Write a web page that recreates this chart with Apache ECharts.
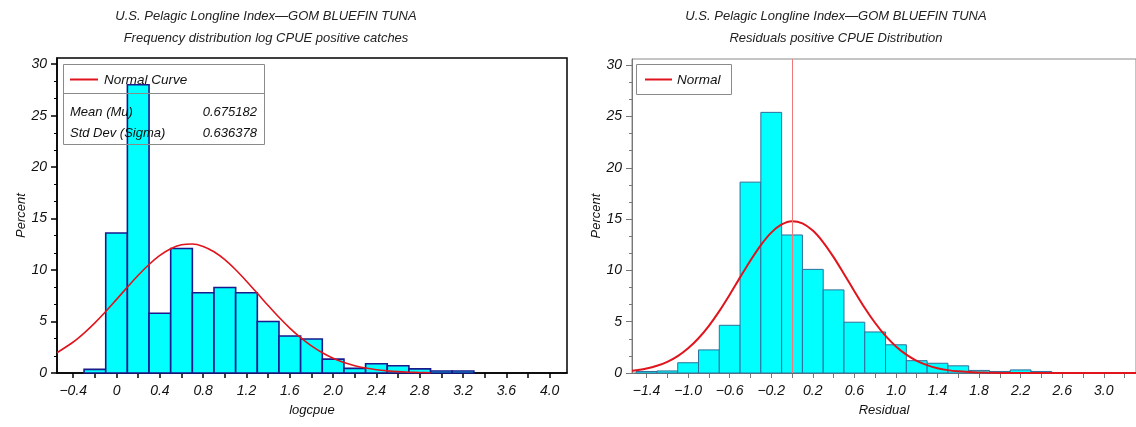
<!DOCTYPE html>
<html><head><meta charset="utf-8">
<script src="https://cdn.jsdelivr.net/npm/echarts@6/dist/echarts.min.js"></script>
<style>html,body{margin:0;padding:0;background:#fff}#c{width:1136px;height:427px}</style>
</head><body><div id="c"></div>
<script>
// ---------- data ----------
const binWidth = 0.2;
const leftBinCenters = [-0.2,0,0.2,0.4,0.6,0.8,1.0,1.2,1.4,1.6,1.8,2.0,2.2,2.4,2.6,2.8,3.0,3.2];
const leftPercents   = [0.35,13.6,28.0,5.8,12.1,7.8,8.3,7.8,5.0,3.6,3.3,1.35,0.45,0.9,0.7,0.4,0.2,0.2];
const leftCurveX = [-0.55,-0.4,-0.3,-0.2,-0.1,0,0.1,0.2,0.3,0.4,0.5,0.6,0.7,0.8,0.9,1.0,1.1,1.2,1.3,1.4,1.5,1.6,1.7,1.8,1.9,2.0,2.1,2.2,2.3,2.4,2.5,2.6,2.7,2.8,2.9];
const leftCurveY = [1.97,3.01,3.88,4.87,5.97,7.15,8.34,9.49,10.54,11.42,12.07,12.45,12.53,12.30,11.78,11.01,10.03,8.92,7.74,6.55,5.41,4.36,3.43,2.63,1.97,1.44,1.02,0.71,0.48,0.32,0.21,0.13,0.08,0.05,0.03];
const leftTickValues = [-0.4,0,0.4,0.8,1.2,1.6,2.0,2.4,2.8,3.2,3.6,4.0];
const leftTickLabels = ['\u22120.4','0','0.4','0.8','1.2','1.6','2.0','2.4','2.8','3.2','3.6','4.0'];
const leftMinorTicks = [-0.4,-0.2,0,0.2,0.4,0.6,0.8,1.0,1.2,1.4,1.6,1.8,2.0,2.2,2.4,2.6,2.8,3.0,3.2,3.4,3.6,3.8,4.0];
const leftStatsNames  = ['Mean (Mu)','Std Dev (Sigma)'];
const leftStatsValues = ['0.675182','0.636378'];

const rightBinCenters = [-1.4,-1.2,-1.0,-0.8,-0.6,-0.4,-0.2,0,0.2,0.4,0.6,0.8,1.0,1.2,1.4,1.6,1.8,2.0,2.2,2.4];
const rightPercents   = [0.15,0.2,1.0,2.25,4.65,18.6,25.4,13.45,10.1,8.1,4.95,4.0,2.75,1.2,0.95,0.7,0.25,0.15,0.3,0.15];
const rightCurveX = [-1.54,-1.5,-1.4,-1.3,-1.2,-1.1,-1.0,-0.9,-0.8,-0.7,-0.6,-0.5,-0.4,-0.3,-0.2,-0.1,0,0.1,0.2,0.3,0.4,0.5,0.6,0.7,0.8,0.9,1.0,1.1,1.2,1.3,1.4,1.5,1.6,1.7,1.8,1.9,2.0,2.4,2.8,3.31];
const rightCurveY = [0.21,0.26,0.43,0.70,1.09,1.65,2.41,3.39,4.60,6.03,7.63,9.32,10.97,12.47,13.68,14.48,14.80,14.59,13.88,12.74,11.29,9.65,7.97,6.34,4.87,3.61,2.59,1.79,1.19,0.77,0.47,0.28,0.16,0.09,0.05,0.03,0.01,0,0,0];
const rightRefLine = [0];
const rightTickValues = [-1.4,-1.0,-0.6,-0.2,0.2,0.6,1.0,1.4,1.8,2.2,2.6,3.0];
const rightTickLabels = ['\u22121.4','\u22121.0','\u22120.6','\u22120.2','0.2','0.6','1.0','1.4','1.8','2.2','2.6','3.0'];
const rightMinorTicks = [-1.4,-1.2,-1.0,-0.8,-0.6,-0.4,-0.2,0,0.2,0.4,0.6,0.8,1.0,1.2,1.4,1.6,1.8,2.0,2.2,2.4,2.6,2.8,3.0,3.2];

const yTickValues = [0,5,10,15,20,25,30];
const yTickLabels = ['0','5','10','15','20','25','30'];
const yMinorTicks = [1.667,3.333,6.667,8.333,11.667,13.333,16.667,18.333,21.667,23.333,26.667,28.333];

const titleLine1 = 'U.S. Pelagic Longline Index\u2014GOM BLUEFIN TUNA';
const leftTitle2 = 'Frequency distribution log CPUE positive catches';
const rightTitle2 = 'Residuals positive CPUE Distribution';

// ---------- chart ----------
const FONT = '"Liberation Sans", Arial, sans-serif';
const chart = echarts.init(document.getElementById('c'), null, {renderer:'canvas'});

function fmt(values, labels){
  return v => { const i = values.findIndex(t => Math.abs(t - v) < 1e-6); return i >= 0 ? labels[i] : ''; };
}
function zip(a, b){ return a.map((x, i) => [x, b[i]]); }
function histRender(stroke, lw){
  return function(params, api){
    const c = api.value(0), v = api.value(1);
    const p0 = api.coord([c - binWidth/2, v]);
    const p1 = api.coord([c + binWidth/2, 0]);
    return {type:'rect', shape:{x:p0[0], y:p0[1], width:p1[0]-p0[0], height:p1[1]-p0[1]},
            style:{fill:'#00ffff', stroke:stroke, lineWidth:lw}};
  };
}
const tickLabelStyle = {fontStyle:'italic', fontSize:14, color:'#111', fontFamily:FONT};
function xAxisCfg(grid, min, max, vals, labels, minors, name, color, lw){
  return {gridIndex:grid, type:'value', min:min, max:max,
    axisLine:{onZero:false, lineStyle:{color:color, width:lw}},
    axisTick:{show:true, customValues:minors, length:5, lineStyle:{color:color, width:lw}},
    axisLabel:Object.assign({customValues:vals, formatter:fmt(vals, labels), margin:11}, tickLabelStyle),
    splitLine:{show:false},
    name:name, nameLocation:'middle', nameGap:31,
    nameTextStyle:{fontStyle:'italic', fontSize:13, color:'#111', fontFamily:FONT}};
}
function yAxesCfg(grid, color, lw){
  return [
    {gridIndex:grid, type:'value', min:0, max:30.6, position:'left', offset:0,
     axisLine:{show:true, onZero:false, lineStyle:{color:color, width:lw}},
     axisTick:{show:true, customValues:yTickValues, length:6, lineStyle:{color:color, width:lw}},
     axisLabel:Object.assign({customValues:yTickValues, formatter:fmt(yTickValues, yTickLabels), margin:10}, tickLabelStyle),
     splitLine:{show:false},
     name:'Percent', nameLocation:'middle', nameGap:28, nameRotate:90,
     nameTextStyle:{fontStyle:'italic', fontSize:13, color:'#111', fontFamily:FONT}},
    {gridIndex:grid, type:'value', min:0, max:30.6, position:'left', offset:0,
     axisLine:{show:false, onZero:false},
     axisTick:{show:true, customValues:yMinorTicks, length:3, lineStyle:{color:color, width:1}},
     axisLabel:{show:false}, splitLine:{show:false}}
  ];
}
function txt(x, y, text, size, align, color){
  return {type:'text', x:x, y:y, z:100, silent:true,
    style:{text:text, fill:color || '#111', font:'italic ' + size + 'px ' + FONT, align:align || 'left', verticalAlign:'middle'}};
}

const option = {
  animation:false,
  backgroundColor:'#fff',
  grid:[
    {left:57, right:569, top:58, bottom:54, show:true, borderColor:'#000', borderWidth:1.5, backgroundColor:'transparent'},
    {left:632, right:0, top:59, bottom:54, show:true, borderColor:'#8a8a8a', borderWidth:1, backgroundColor:'transparent'}
  ],
  xAxis:[
    xAxisCfg(0, -0.55, 4.16, leftTickValues, leftTickLabels, leftMinorTicks, 'logcpue', '#000', 1.5),
    xAxisCfg(1, -1.54, 3.31, rightTickValues, rightTickLabels, rightMinorTicks, 'Residual', '#777', 1)
  ],
  yAxis: yAxesCfg(0, '#000', 1.5).concat(yAxesCfg(1, '#777', 1)),
  series:[
    {type:'custom', name:'logcpue', xAxisIndex:0, yAxisIndex:0, renderItem:histRender('#1a1a8c', 1.6),
     data:zip(leftBinCenters, leftPercents), z:2},
    {type:'line', name:'Normal Curve', xAxisIndex:0, yAxisIndex:0, data:zip(leftCurveX, leftCurveY),
     smooth:0.3, showSymbol:false, lineStyle:{color:'#e0141c', width:1.6}, z:3},
    {type:'custom', name:'Residual', xAxisIndex:1, yAxisIndex:2, renderItem:histRender('#2f6f9a', 1),
     data:zip(rightBinCenters, rightPercents), z:2},
    {type:'line', name:'Normal', xAxisIndex:1, yAxisIndex:2, data:zip(rightCurveX, rightCurveY),
     smooth:0.3, showSymbol:false, lineStyle:{color:'#e0141c', width:2}, z:3,
     markLine:{silent:true, symbol:['none','none'], label:{show:false},
       lineStyle:{color:'#f07a7a', width:1, type:'solid'},
       data: rightRefLine.map(v => ({xAxis:v}))}}
  ],
  graphic:[
    txt(266, 16, titleLine1, 13, 'center', '#222'),
    txt(266, 38, leftTitle2, 13, 'center', '#222'),
    txt(836, 16, titleLine1, 13, 'center', '#222'),
    txt(836, 38, rightTitle2, 13, 'center', '#222'),
    // left legend box
    {type:'rect', z:100, silent:true, shape:{x:63.5, y:64.5, width:201, height:80}, style:{fill:'none', stroke:'#8a8a8a', lineWidth:1}},
    {type:'line', z:100, silent:true, shape:{x1:63.5, y1:93.5, x2:264.5, y2:93.5}, style:{stroke:'#8a8a8a', lineWidth:1}},
    {type:'line', z:100, silent:true, shape:{x1:70, y1:79.5, x2:98, y2:79.5}, style:{stroke:'#e0141c', lineWidth:2}},
    txt(104, 80, 'Normal Curve', 13.5),
    txt(70, 112, leftStatsNames[0], 13),
    txt(257, 112, leftStatsValues[0], 13, 'right'),
    txt(70, 133, leftStatsNames[1], 13),
    txt(257, 133, leftStatsValues[1], 13, 'right'),
    // right legend box
    {type:'rect', z:100, silent:true, shape:{x:636.5, y:64.5, width:95, height:30}, style:{fill:'none', stroke:'#8a8a8a', lineWidth:1}},
    {type:'line', z:100, silent:true, shape:{x1:645, y1:79.5, x2:672, y2:79.5}, style:{stroke:'#e0141c', lineWidth:2}},
    txt(677, 80, 'Normal', 13.5)
  ]
};
chart.setOption(option);
</script>
</body></html>
